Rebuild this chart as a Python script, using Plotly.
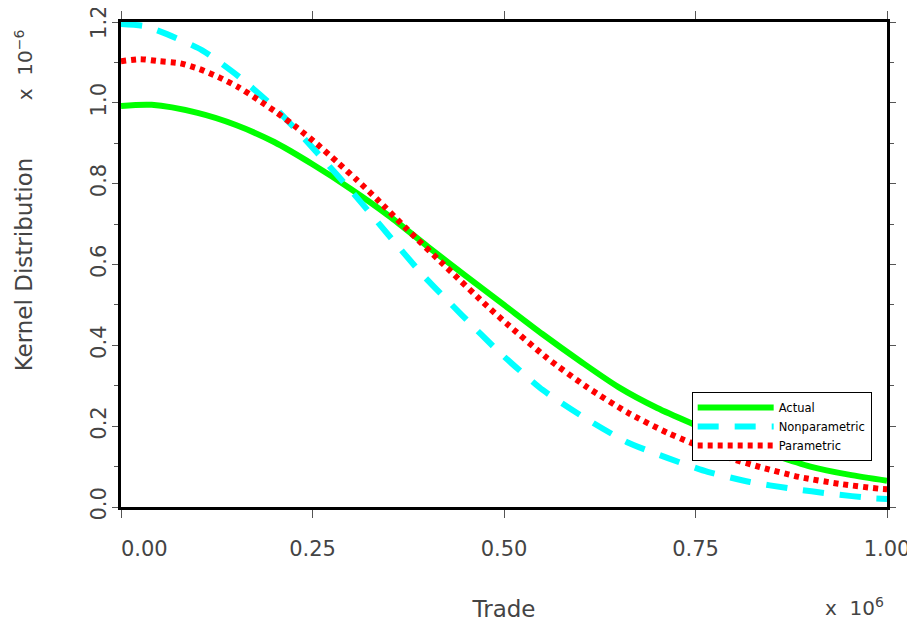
import plotly.graph_objects as go

# Values shown on the chart's scaled axes (Trade in units of 1e6, density in units of 1e-6)
series_names = ["Actual", "Nonparametric", "Parametric"]

trade_actual = [0, 0.04, 0.1, 0.15, 0.2, 0.25, 0.3, 0.35, 0.4, 0.45, 0.5, 0.55, 0.6, 0.65, 0.7,
                0.75, 0.8, 0.85, 0.9, 0.95, 1.0]
dens_actual = [0.992, 0.995, 0.975, 0.945, 0.903, 0.848, 0.787, 0.72, 0.645, 0.572, 0.50, 0.428,
               0.36, 0.296, 0.245, 0.203, 0.163, 0.13, 0.10, 0.08, 0.065]

trade_nonpar = [0, 0.03, 0.06, 0.106, 0.153, 0.204, 0.253, 0.302, 0.347, 0.394, 0.445, 0.495,
                0.551, 0.606, 0.66, 0.714, 0.766, 0.821, 0.873, 0.93, 0.98, 1.0]
dens_nonpar = [1.195, 1.19, 1.17, 1.13, 1.066, 0.982, 0.883, 0.779, 0.678, 0.574, 0.475, 0.381,
               0.289, 0.22, 0.161, 0.121, 0.087, 0.062, 0.046, 0.032, 0.022, 0.02]

trade_par = [0, 0.025, 0.05, 0.077, 0.102, 0.127, 0.153, 0.178, 0.204, 0.23, 0.256, 0.282, 0.308, 0.334,
             0.373, 0.426, 0.478, 0.504, 0.556, 0.608, 0.662, 0.714, 0.795, 0.834, 0.886, 0.939, 0.991, 1.0]
dens_par = [1.103, 1.108, 1.103, 1.098, 1.084, 1.064, 1.039, 1.009, 0.975, 0.938, 0.898, 0.854, 0.809, 0.762,
            0.688, 0.591, 0.497, 0.453, 0.369, 0.297, 0.233, 0.183, 0.121, 0.099, 0.074, 0.057, 0.045, 0.044]

x_tickvals = [0, 0.25, 0.5, 0.75, 1.0]
x_ticktext = ["\u00a0" * 7 + "0.00", "0.25", "0.50", "0.75", "1.00"]
y_tickvals = [0.0, 0.2, 0.4, 0.6, 0.8, 1.0, 1.2]
y_ticktext = ["0.0", "0.2", "0.4", "0.6", "0.8", "1.0", "1.2\u00a0"]

FONT = "DejaVu Sans"
TICKCOL = "#555555"
TEXTCOL = "#444444"

fig = go.Figure()
fig.add_trace(go.Scatter(x=trade_actual, y=dens_actual, mode="lines", name=series_names[0],
                         line=dict(color="#00ff00", width=6, shape="spline", smoothing=0.8)))
fig.add_trace(go.Scatter(x=trade_nonpar, y=dens_nonpar, mode="lines", name=series_names[1],
                         line=dict(color="#00ffff", width=6, dash="21px,16px", shape="spline", smoothing=0.6)))
fig.add_trace(go.Scatter(x=trade_par, y=dens_par, mode="lines", name=series_names[2],
                         line=dict(color="#ff0000", width=6, dash="5px,5px", shape="spline", smoothing=0.6)))

# the page body adds an 8px margin, so the figure is 8px smaller than the window
fig.update_layout(
    width=907, height=616,
    margin=dict(l=113, r=28, t=14, b=117, autoexpand=False),
    plot_bgcolor="white", paper_bgcolor="white",
    font=dict(family=FONT, color=TEXTCOL),
    legend=dict(x=0.98, xanchor="right", y=0.237, yanchor="top",
                bgcolor="white", bordercolor="black", borderwidth=1,
                font=dict(family=FONT, size=11.5, color="black"),
                itemwidth=76, tracegroupgap=0),
    annotations=[
        dict(text="x  10<sup>\u22126</sup>", xref="paper", yref="paper", x=-0.1266, y=0.911,
             xanchor="center", yanchor="middle",
             showarrow=False, textangle=-90, font=dict(family=FONT, size=20, color=TEXTCOL)),
        dict(text="x  10<sup>6</sup>", xref="paper", yref="paper", x=0.958, y=-0.206,
             xanchor="center", yanchor="middle",
             showarrow=False, font=dict(family=FONT, size=20, color=TEXTCOL)),
    ],
)

fig.update_xaxes(
    range=[0, 1], tickvals=x_tickvals, ticktext=x_ticktext, automargin=False,
    ticklabeloverflow="allow",
    ticks="outside", ticklen=8, tickwidth=1, tickcolor=TICKCOL,
    showline=True, linecolor="black", linewidth=3, mirror="allticks",
    showgrid=False, zeroline=False,
    tickfont=dict(family=FONT, size=21, color=TEXTCOL), ticklabelstandoff=13,
    title=dict(text="Trade", font=dict(family=FONT, size=23, color=TEXTCOL), standoff=41),
)
fig.update_yaxes(
    range=[0, 1.2], tickvals=y_tickvals, ticktext=y_ticktext, tickangle=-90, automargin=False,
    ticklabeloverflow="allow",
    ticks="outside", ticklen=6, tickwidth=1, tickcolor=TICKCOL,
    minor=dict(dtick=0.1, ticks="outside", ticklen=4, tickcolor=TICKCOL, tickwidth=1, showgrid=False),
    showline=True, linecolor="black", linewidth=3, mirror="allticks",
    showgrid=False, zeroline=False,
    tickfont=dict(family=FONT, size=21, color=TEXTCOL), ticklabelstandoff=-2,
    title=dict(text="Kernel Distribution", font=dict(family=FONT, size=23, color=TEXTCOL), standoff=48),
)

fig.write_html("out.html")
